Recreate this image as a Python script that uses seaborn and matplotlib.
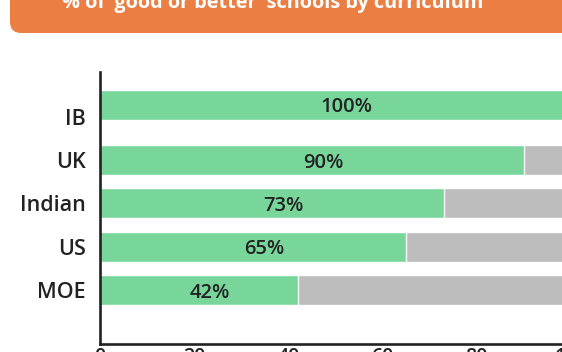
import matplotlib
matplotlib.use("Agg")
import matplotlib.pyplot as plt
import matplotlib.transforms as mtransforms
from matplotlib.patches import FancyBboxPatch
import seaborn as sns
import pandas as pd

# ---- data ----
categories = ["IB", "UK", "Indian", "US", "MOE"]
values = [100, 90, 73, 65, 42]
totals = [100, 100, 100, 100, 100]
value_labels = ["100%", "90%", "73%", "65%", "42%"]
x_ticks = [0, 20, 40, 60, 80, 100]
title = "% of \u2018good or better\u2019 schools by curriculum"

GREEN = "#78D69B"
GREY = "#BDBDBD"
ORANGE = "#EB7E43"
DARK = "#222222"

sns.set_theme(style="white")
plt.rcParams["font.family"] = ["Open Sans", "DejaVu Sans"]

W, H = 562, 352
fig = plt.figure(figsize=(W / 100, H / 100), dpi=100)

# axes placed in pixel terms (image y measured from top)
left_px, right_px = 100, 571
top_px, bottom_px = 72, 344
ax = fig.add_axes([left_px / W, (H - bottom_px) / H,
                   (right_px - left_px) / W, (bottom_px - top_px) / H])

df = pd.DataFrame({"cat": categories, "val": values, "tot": totals})
sns.barplot(data=df, x="tot", y="cat", orient="h", color=GREY,
            width=0.69, saturation=1, ax=ax, order=categories)
sns.barplot(data=df, x="val", y="cat", orient="h", color=GREEN,
            width=0.69, saturation=1, ax=ax, order=categories)

# the first (IB) bar sits slightly higher than its label in the reference
for p in ax.patches:
    cy = p.get_y() + p.get_height() / 2
    if abs(cy - 0) < 0.01:
        p.set_y(p.get_y() - 0.27)

for i, (v, lab) in enumerate(zip(values, value_labels)):
    cy = i - (0.27 if i == 0 else 0)
    ax.text(v / 2 + 2.4, cy, lab, ha="center", va="center_baseline",
            fontsize=14.5, fontweight="semibold", color=DARK)

ax.set_xlim(0, 100)
ax.set_ylim(5.24, -1.03)
ax.set_xticks(x_ticks)
ax.set_xticklabels([str(t) for t in x_ticks])
ax.set_xlabel("")
ax.set_ylabel("")

for s in ["top", "right"]:
    ax.spines[s].set_visible(False)
for s in ["left", "bottom"]:
    ax.spines[s].set_color(DARK)
    ax.spines[s].set_linewidth(1.9)

ax.tick_params(axis="x", direction="in", length=3.8, width=1.5, color=DARK,
               pad=2, labelsize=14, labelcolor=DARK)
ax.tick_params(axis="y", length=0, pad=10, labelsize=15.5, labelcolor=DARK)
for t in ax.get_yticklabels():
    t.set_fontweight("semibold")
for t in ax.get_xticklabels():
    t.set_fontweight("semibold")

# orange title banner
px = mtransforms.Affine2D().scale(1 / W, 1 / H) + fig.transFigure
banner = FancyBboxPatch((10, H - 33), 600, 60,
                        boxstyle="round,pad=0,rounding_size=11",
                        transform=px, facecolor=ORANGE, edgecolor="none",
                        zorder=0)
fig.patches.append(banner)
fig.text(273 / W, (H - 8) / H, title, ha="center", va="baseline",
         fontsize=14.3, fontweight="bold", color="white")

fig.savefig("out.png", dpi=100)
